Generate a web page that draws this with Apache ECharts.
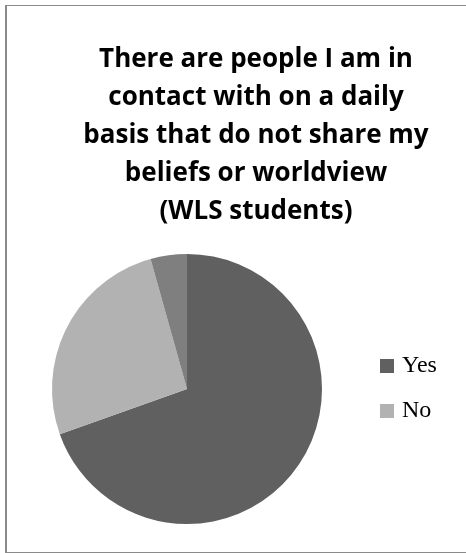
<!DOCTYPE html>
<html>
<head>
<meta charset="utf-8">
<script src="https://cdn.jsdelivr.net/npm/echarts@6/dist/echarts.min.js"></script>
<style>
  html, body { margin: 0; padding: 0; background: #fff; overflow: hidden; }
  #wrap { position: relative; width: 466px; height: 553px; overflow: hidden; }
  #frame { position: absolute; left: 5px; top: 5px; width: 480px; height: 546px;
           border-left: 2px solid #8a8a8a; border-top: 1px solid #8a8a8a; border-bottom: 1px solid #8a8a8a; }
  #chart { position: absolute; left: 0; top: 0; width: 466px; height: 553px; }
</style>
</head>
<body>
<div id="wrap">
  <div id="frame"></div>
  <div id="chart"></div>
</div>
<script>
// Survey answers (count of respondents)
const categories = ['Yes', 'No', 'No answer'];
const counts = [16, 6, 1];
const legendItems = ['Yes', 'No'];
const sliceColors = ['#606060', '#b2b2b2', '#7f7f7f'];
const titleText = 'There are people I am in\ncontact with on a daily\nbasis that do not share my\nbeliefs or worldview\n(WLS students)';

const chart = echarts.init(document.getElementById('chart'), null, { renderer: 'canvas' });

chart.setOption({
  animation: false,
  backgroundColor: 'transparent',
  title: {
    text: titleText,
    left: 251,
    top: 36,
    textAlign: 'center',
    textStyle: {
      fontFamily: 'Open Sans',
      fontWeight: 'bold',
      fontSize: 26,
      lineHeight: 38,
      color: '#000'
    }
  },
  legend: {
    data: legendItems,
    orient: 'vertical',
    left: 380,
    top: 354,
    padding: 0,
    icon: 'rect',
    itemWidth: 14,
    itemHeight: 14,
    itemGap: 21,
    selectedMode: false,
    textStyle: {
      fontFamily: 'Liberation Serif',
      fontSize: 24,
      lineHeight: 24,
      color: '#000',
      padding: [0, 0, 0, 3]
    }
  },
  series: [{
    type: 'pie',
    center: [187, 389],
    radius: [0, 135],
    startAngle: 90,
    clockwise: true,
    silent: true,
    label: { show: false },
    labelLine: { show: false },
    itemStyle: { borderWidth: 0 },
    data: categories.map((name, i) => ({
      name: name,
      value: counts[i],
      itemStyle: { color: sliceColors[i] }
    }))
  }]
});
</script>
</body>
</html>
